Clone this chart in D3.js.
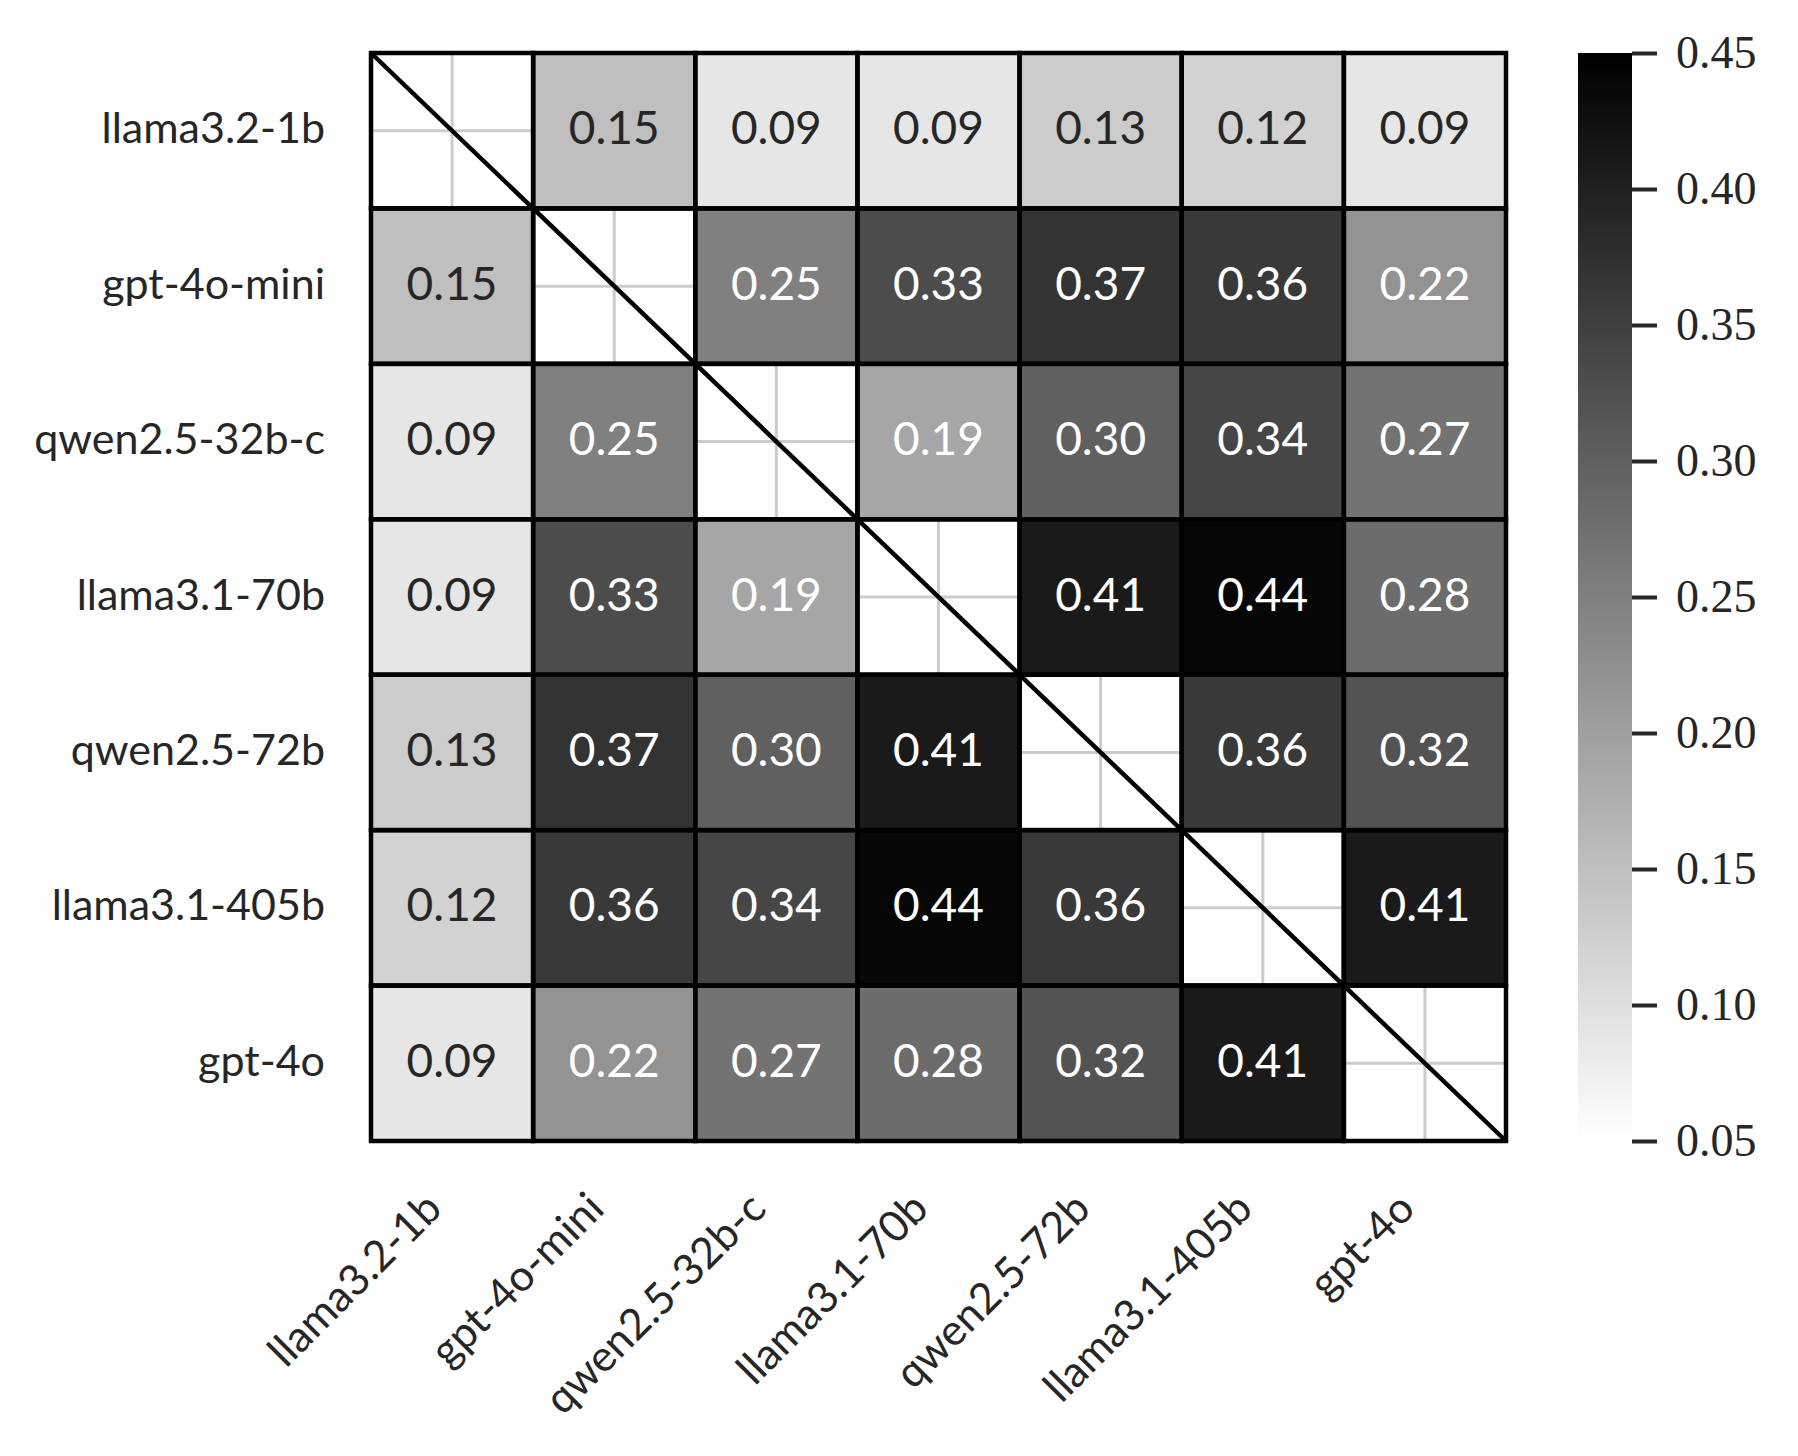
<!DOCTYPE html>
<html>
<head>
<meta charset="utf-8">
<script src="https://cdn.jsdelivr.net/npm/d3@7"></script>
<style>
  body { margin: 0; background: #fff; }
  svg { display: block; }
</style>
</head>
<body>
<svg id="chart"></svg>
<script>
//model names, same order on both axes
const models = ["llama3.2-1b", "gpt-4o-mini", "qwen2.5-32b-c", "llama3.1-70b", "qwen2.5-72b", "llama3.1-405b", "gpt-4o"];

//one row per model, null on the diagonal
const rowLlama32_1b  = [null, 0.15, 0.09, 0.09, 0.13, 0.12, 0.09];
const rowGpt4oMini   = [0.15, null, 0.25, 0.33, 0.37, 0.36, 0.22];
const rowQwen32bC    = [0.09, 0.25, null, 0.19, 0.30, 0.34, 0.27];
const rowLlama31_70b = [0.09, 0.33, 0.19, null, 0.41, 0.44, 0.28];
const rowQwen72b     = [0.13, 0.37, 0.30, 0.41, null, 0.36, 0.32];
const rowLlama31_405 = [0.12, 0.36, 0.34, 0.44, 0.36, null, 0.41];
const rowGpt4o       = [0.09, 0.22, 0.27, 0.28, 0.32, 0.41, null];

//colorbar range and ticks
const colorDomain = [0.05, 0.45];
const colorTicks = [0.05, 0.10, 0.15, 0.20, 0.25, 0.30, 0.35, 0.40, 0.45];

const rows = [rowLlama32_1b, rowGpt4oMini, rowQwen32bC, rowLlama31_70b, rowQwen72b, rowLlama31_405, rowGpt4o];

const W = 1798, H = 1456;
const mLeft = 371, mTop = 53, mRight = 1506, mBottom = 1141;
const sansFont = "Lato, 'Noto Sans', sans-serif";
const serifFont = "'Liberation Serif', 'DejaVu Serif', serif";
const textDark = "#262626";

const svg = d3.select("#chart").attr("width", W).attr("height", H);

const x = d3.scaleBand().domain(models).range([mLeft, mRight]);
const y = d3.scaleBand().domain(models).range([mTop, mBottom]);

//white -> black, like gray_r
const color = d3.scaleLinear().domain(colorDomain).range(["#ffffff", "#000000"]).clamp(true);

//seaborn style: dark text on light cells, white on dark ones
function textColor(v) {
    const c = d3.rgb(color(v));
    const lin = ch => {
        const s = ch / 255;
        return s <= 0.03928 ? s / 12.92 : Math.pow((s + 0.055) / 1.055, 2.4);
    };
    const lum = 0.2126 * lin(c.r) + 0.7152 * lin(c.g) + 0.0722 * lin(c.b);
    return lum > 0.408 ? textDark : "#ffffff";
}

//flat list of cells
const cells = [];
rows.forEach((row, i) => {
    row.forEach((v, j) => {
        cells.push({ row: models[i], col: models[j], value: v });
    });
});

//light grid lines at the tick positions, under the cells
const grid = svg.append("g");
grid.selectAll(".vgrid")
    .data(models)
    .join("line")
    .attr("x1", d => x(d) + x.bandwidth() / 2)
    .attr("x2", d => x(d) + x.bandwidth() / 2)
    .attr("y1", mTop).attr("y2", mBottom)
    .style("stroke", "#cccccc")
    .style("stroke-width", 3);
grid.selectAll(".hgrid")
    .data(models)
    .join("line")
    .attr("y1", d => y(d) + y.bandwidth() / 2)
    .attr("y2", d => y(d) + y.bandwidth() / 2)
    .attr("x1", mLeft).attr("x2", mRight)
    .style("stroke", "#cccccc")
    .style("stroke-width", 3);

//heatmap cells (diagonal left empty)
const g = svg.append("g");
g.selectAll(".cell")
    .data(cells.filter(d => d.value !== null))
    .join("rect")
    .attr("class", "cell")
    .attr("x", d => x(d.col))
    .attr("y", d => y(d.row))
    .attr("width", x.bandwidth())
    .attr("height", y.bandwidth())
    .style("fill", d => color(d.value));

//cell edges, drawn for every cell so the diagonal ones get them too
g.selectAll(".edge")
    .data(cells)
    .join("rect")
    .attr("class", "edge")
    .attr("x", d => x(d.col))
    .attr("y", d => y(d.row))
    .attr("width", x.bandwidth())
    .attr("height", y.bandwidth())
    .style("fill", "none")
    .style("stroke", "#000")
    .style("stroke-width", 4.5);

//annotations
g.selectAll(".label")
    .data(cells.filter(d => d.value !== null))
    .join("text")
    .attr("x", d => x(d.col) + x.bandwidth() / 2)
    .attr("y", d => y(d.row) + y.bandwidth() / 2 - 4)
    .attr("text-anchor", "middle")
    .attr("dominant-baseline", "central")
    .style("font-family", sansFont)
    .style("font-size", "46px")
    .style("fill", d => textColor(d.value))
    .text(d => d3.format(".2f")(d.value));

//diagonal line corner to corner
svg.append("line")
    .attr("x1", mLeft).attr("y1", mTop)
    .attr("x2", mRight).attr("y2", mBottom)
    .style("stroke", "#000")
    .style("stroke-width", 4.5);

//outer frame
svg.append("rect")
    .attr("x", mLeft).attr("y", mTop)
    .attr("width", mRight - mLeft).attr("height", mBottom - mTop)
    .style("fill", "none")
    .style("stroke", "#000")
    .style("stroke-width", 4);

//y tick labels
svg.append("g").selectAll("text")
    .data(models)
    .join("text")
    .attr("x", mLeft - 46)
    .attr("y", d => y(d) + y.bandwidth() / 2 - 4)
    .attr("text-anchor", "end")
    .attr("dominant-baseline", "central")
    .style("font-family", sansFont)
    .style("font-size", "43px")
    .style("fill", textDark)
    .text(d => d);

//x tick labels, rotated 45 degrees
svg.append("g").selectAll("text")
    .data(models)
    .join("text")
    .attr("transform", d => `translate(${x(d) + x.bandwidth() / 2 - 8},${mBottom + 70}) rotate(-45)`)
    .attr("text-anchor", "end")
    .style("font-family", sansFont)
    .style("font-size", "43px")
    .style("fill", textDark)
    .text(d => d);

//colorbar
const cbLeft = 1578, cbRight = 1632;
const defs = svg.append("defs");
const grad = defs.append("linearGradient")
    .attr("id", "cbGrad")
    .attr("x1", 0).attr("y1", 1).attr("x2", 0).attr("y2", 0);
grad.append("stop").attr("offset", "0%").attr("stop-color", color(colorDomain[0]));
grad.append("stop").attr("offset", "100%").attr("stop-color", color(colorDomain[1]));

svg.append("rect")
    .attr("x", cbLeft).attr("y", mTop)
    .attr("width", cbRight - cbLeft).attr("height", mBottom - mTop)
    .style("fill", "url(#cbGrad)");

const cbScale = d3.scaleLinear().domain(colorDomain).range([mBottom, mTop]);
const cbAxis = svg.append("g")
    .attr("transform", `translate(${cbRight},0)`)
    .call(d3.axisRight(cbScale)
        .tickValues(colorTicks)
        .tickSize(25)
        .tickPadding(19)
        .tickFormat(d3.format(".2f")));
cbAxis.select(".domain").remove();
cbAxis.selectAll(".tick line")
    .style("stroke", textDark)
    .style("stroke-width", 4);
cbAxis.selectAll(".tick text")
    .style("font-family", serifFont)
    .style("font-size", "46px")
    .style("fill", textDark);
</script>
</body>
</html>
